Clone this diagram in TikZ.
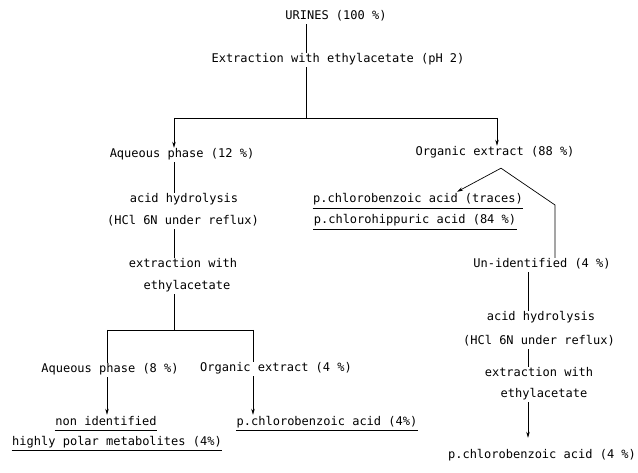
\documentclass[tikz,border=0pt]{standalone}
\usepackage{fontspec}
\setmonofont{DejaVu Sans Mono}
\usetikzlibrary{arrows.meta}
\begin{document}
\begin{tikzpicture}[x=1pt,y=-1pt,
  lbl/.style={font=\fontsize{12}{14}\selectfont\ttfamily, inner xsep=0.5pt, inner ysep=1.5pt, text height=8.5pt, text depth=2.5pt},
  ln/.style={line width=0.7pt},
  arr/.style={ln,-{Stealth[length=6pt,width=3.5pt]}},
  ul/.style={line width=0.8pt}]
\useasboundingbox (0,0) rectangle (638,473);
% column coordinates
\coordinate (c0) at (306,0);
\coordinate (cL) at (174,0);
\coordinate (cR2) at (528,0);
% nodes
\node[lbl] (urines) at (336,17) {URINES (100 \%)};
\node[lbl] (extr) at (338,60) {Extraction with ethylacetate (pH 2)};
\node[lbl] (aq12) at (182,155) {Aqueous phase (12 \%)};
\node[lbl] (hydA) at (184,200) {acid hydrolysis};
\node[lbl] (hydB) at (183,222) {(HCl 6N under reflux)};
\node[lbl] (extA) at (183,265) {extraction with};
\node[lbl] (extB) at (187,287) {ethylacetate};
\node[lbl] (aq8) at (110,370) {Aqueous phase (8 \%)};
\node[lbl] (org4) at (276,369) {Organic extract (4 \%)};
\node[lbl] (nonid) at (106,422) {non identified};
\node[lbl] (polar) at (117,442) {highly polar metabolites (4\%)};
\node[lbl] (pcb4) at (327,422) {p.chlorobenzoic acid (4\%)};
\node[lbl] (org88) at (495,153) {Organic extract (88 \%)};
\node[lbl] (traces) at (418,200) {p.chlorobenzoic acid (traces)};
\node[lbl] (hipp) at (415,221) {p.chlorohippuric acid (84 \%)};
\node[lbl] (unid) at (542,265) {Un-identified (4 \%)};
\node[lbl] (hyd2A) at (541,318) {acid hydrolysis};
\node[lbl] (hyd2B) at (539,342) {(HCl 6N under reflux)};
\node[lbl] (ext2A) at (539,374) {extraction with};
\node[lbl] (ext2B) at (544,395) {ethylacetate};
\node[lbl] (final) at (542,455) {p.chlorobenzoic acid (4 \%)};
% underlines
\foreach \n in {nonid,polar,pcb4,traces,hipp}
  \draw[ul] ([yshift=-1pt]\n.south west) -- ([yshift=-1pt]\n.south east);
% top trunk
\draw[ln] (urines.south -| c0) -- (extr.north -| c0);
\coordinate (s1) at (306,118);
\coordinate (sL) at (174,118);
\coordinate (sR) at (497,118);
\draw[ln] (extr.south -| c0) -- (s1);
\draw[ln] (sL) -- (sR);
\draw[arr] (sL) -- (aq12.north -| sL);
\draw[arr] (sR) -- (org88.north -| sR);
% left column
\draw[ln] (aq12.south -| cL) -- (hydA.north -| cL);
\draw[ln] (hydB.south -| cL) -- (extA.north -| cL);
\coordinate (s2) at (174,330);
\coordinate (s2L) at (107,330);
\coordinate (s2R) at (253,330);
\draw[ln] (extB.south -| cL) -- (s2);
\draw[ln] (s2L) -- (s2R);
\draw[ln] (s2L) -- (aq8.north -| s2L);
\draw[ln] (s2R) -- (org4.north -| s2R);
\draw[arr] (aq8.south -| s2L) -- (nonid.north -| s2L);
\draw[arr] (org4.south -| s2R) -- (pcb4.north -| s2R);
% right column
\coordinate (apex) at ([xshift=6pt,yshift=-8pt]org88.south);
\coordinate (bend) at (555,205);
\draw[arr] (apex) -- ([xshift=39pt,yshift=1pt]traces.north);
\draw[ln] (apex) -- (bend) -- (bend |- unid.north);
\draw[ln] (unid.south -| cR2) -- (hyd2A.north -| cR2);
\draw[ln] (hyd2B.south -| cR2) -- (ext2A.north -| cR2);
\path (final.north -| cR2) ++(0,-10) coordinate (ftip);
\draw[arr] (ext2B.south -| cR2) -- (ftip);
\end{tikzpicture}
\end{document}
